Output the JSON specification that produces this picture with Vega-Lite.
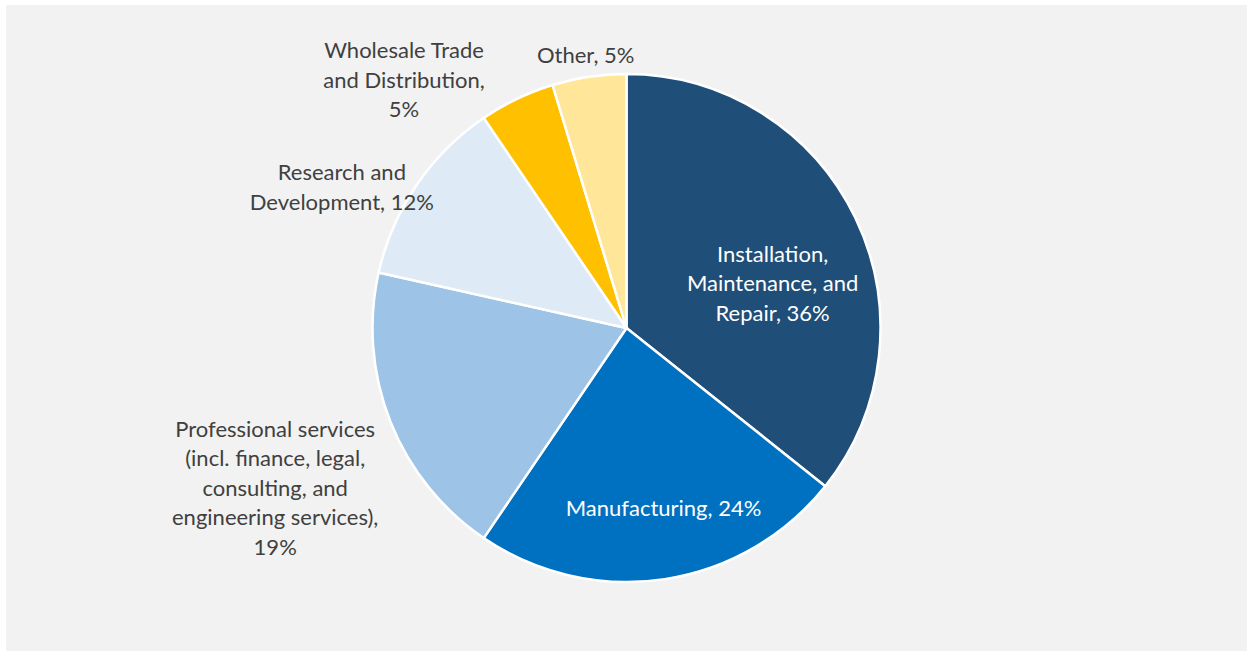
{
  "$schema": "https://vega.github.io/schema/vega-lite/v6.json",
  "width": 1241,
  "height": 646,
  "autosize": {"type": "none"},
  "padding": {"left": 6, "top": 5, "right": 0, "bottom": 0},
  "background": "#ffffff",
  "view": {"fill": "#f2f2f2", "stroke": null},
  "data": {
    "values": [
      {"o": 1, "cat": "Installation, Maintenance, and Repair", "value": 35.7, "label": "Installation,\nMaintenance, and\nRepair, 36%"},
      {"o": 2, "cat": "Manufacturing", "value": 23.8, "label": "Manufacturing, 24%"},
      {"o": 3, "cat": "Professional services", "value": 19.0, "label": "Professional services\n(incl. finance, legal,\nconsulting, and\nengineering services),\n19%"},
      {"o": 4, "cat": "Research and Development", "value": 12.0, "label": "Research and\nDevelopment, 12%"},
      {"o": 5, "cat": "Wholesale Trade and Distribution", "value": 4.8, "label": "Wholesale Trade\nand Distribution,\n5%"},
      {"o": 6, "cat": "Other", "value": 4.7, "label": "Other, 5%"}
    ]
  },
  "encoding": {
    "theta": {"field": "value", "type": "quantitative", "stack": true},
    "order": {"field": "o", "type": "quantitative"}
  },
  "layer": [
    {
      "mark": {"type": "arc", "outerRadius": 254, "stroke": "#ffffff", "strokeWidth": 2.5},
      "encoding": {
        "color": {
          "field": "cat",
          "type": "nominal",
          "scale": {
            "domain": ["Installation, Maintenance, and Repair", "Manufacturing", "Professional services", "Research and Development", "Wholesale Trade and Distribution", "Other"],
            "range": ["#1f4e79", "#0070c0", "#9dc3e6", "#deebf7", "#ffc000", "#ffe699"]
          },
          "legend": null
        }
      }
    },
    {
      "mark": {"type": "text", "radius": 150, "dx": 11, "dy": -8, "font": "Lato", "fontSize": 22, "lineBreak": "\n", "lineHeight": 29.5, "color": "#ffffff", "align": "center", "baseline": "middle"},
      "encoding": {"text": {"condition": {"test": "datum.o === 1", "field": "label", "type": "nominal"}, "value": ""}}
    },
    {
      "mark": {"type": "text", "radius": 180, "dx": 10, "dy": 3, "font": "Lato", "fontSize": 22, "lineBreak": "\n", "lineHeight": 29.5, "color": "#ffffff", "align": "center", "baseline": "middle"},
      "encoding": {"text": {"condition": {"test": "datum.o === 2", "field": "label", "type": "nominal"}, "value": ""}}
    },
    {
      "mark": {"type": "text", "radius": 380, "dx": 2, "dy": -38, "font": "Lato", "fontSize": 22, "lineBreak": "\n", "lineHeight": 29.5, "color": "#404040", "align": "center", "baseline": "middle"},
      "encoding": {"text": {"condition": {"test": "datum.o === 3", "field": "label", "type": "nominal"}, "value": ""}}
    },
    {
      "mark": {"type": "text", "radius": 320, "dx": -20, "dy": 25, "font": "Lato", "fontSize": 22, "lineBreak": "\n", "lineHeight": 29.5, "color": "#404040", "align": "center", "baseline": "middle"},
      "encoding": {"text": {"condition": {"test": "datum.o === 4", "field": "label", "type": "nominal"}, "value": ""}}
    },
    {
      "mark": {"type": "text", "radius": 300, "dx": -93, "dy": -6, "font": "Lato", "fontSize": 22, "lineBreak": "\n", "lineHeight": 29.5, "color": "#404040", "align": "center", "baseline": "middle"},
      "encoding": {"text": {"condition": {"test": "datum.o === 5", "field": "label", "type": "nominal"}, "value": ""}}
    },
    {
      "mark": {"type": "text", "radius": 277, "dx": 0, "dy": 2, "font": "Lato", "fontSize": 22, "lineBreak": "\n", "lineHeight": 29.5, "color": "#404040", "align": "center", "baseline": "middle"},
      "encoding": {"text": {"condition": {"test": "datum.o === 6", "field": "label", "type": "nominal"}, "value": ""}}
    }
  ]
}
